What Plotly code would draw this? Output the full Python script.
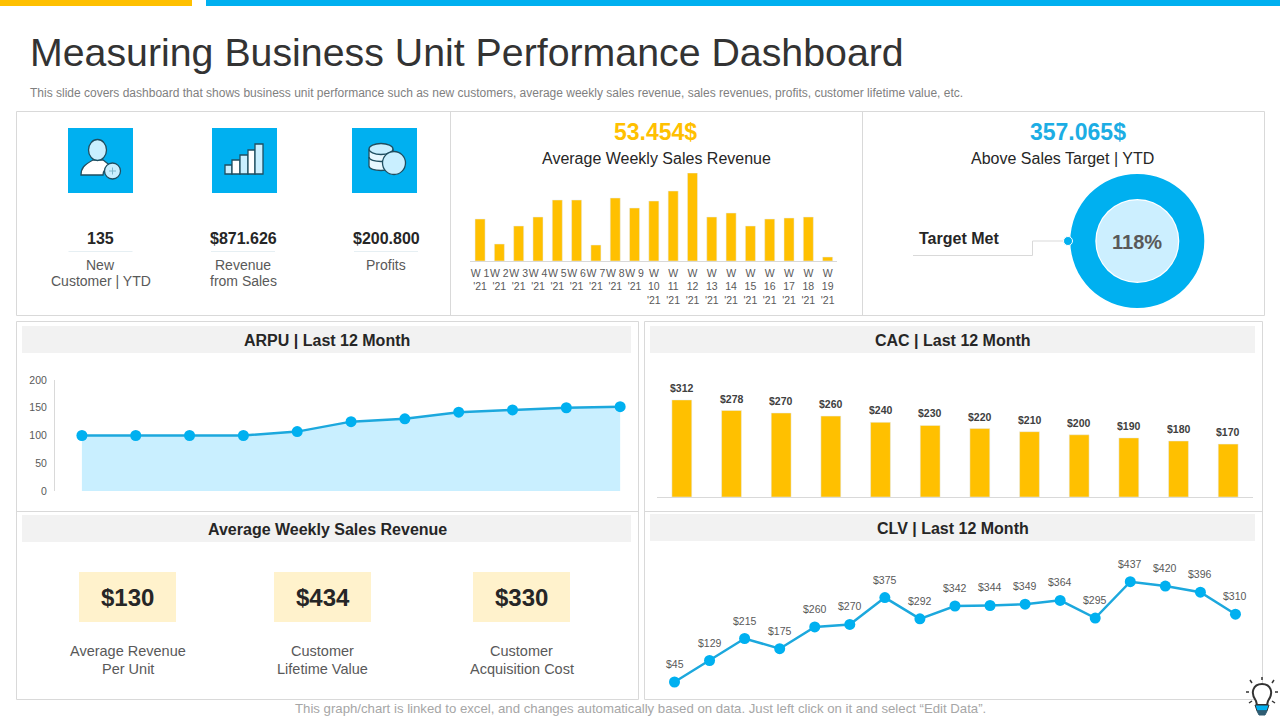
import plotly.graph_objects as go

YELLOW = "#FFC000"
BLUE = "#00B0F0"
LINE_BLUE = "#1CA8DD"
LIGHT_BLUE = "#C9EFFF"
BORDER = "#D9D9D9"
DARK = "#262626"
GREY = "#595959"
FONT = "Liberation Sans"

# weekly sales revenue (no scale on the chart)
week_labels = ["W 1<br>'21", "W 2<br>'21", "W 3<br>'21", "W 4<br>'21", "W 5<br>'21",
               "W 6<br>'21", "W 7<br>'21", "W 8<br>'21", "W 9<br>'21", "W<br>10<br>'21",
               "W<br>11<br>'21", "W<br>12<br>'21", "W<br>13<br>'21", "W<br>14<br>'21",
               "W<br>15<br>'21", "W<br>16<br>'21", "W<br>17<br>'21", "W<br>18<br>'21",
               "W<br>19<br>'21"]
week_values = [42, 17, 35, 44, 61, 61, 16, 63, 53, 60, 70, 88, 44, 48, 35, 42, 43, 44, 4]

arpu_months = ["M1", "M2", "M3", "M4", "M5", "M6", "M7", "M8", "M9", "M10", "M11"]
arpu_values = [100, 100, 100, 100, 107, 125, 130, 142, 146, 150, 152]
arpu_ticks = [0, 50, 100, 150, 200]

cac_months = ["M1", "M2", "M3", "M4", "M5", "M6", "M7", "M8", "M9", "M10", "M11", "M12"]
cac_values = [312, 278, 270, 260, 240, 230, 220, 210, 200, 190, 180, 170]

clv_points = ["P1", "P2", "P3", "P4", "P5", "P6", "P7", "P8", "P9", "P10", "P11", "P12",
              "P13", "P14", "P15", "P16", "P17"]
clv_values = [45, 129, 215, 175, 260, 270, 375, 292, 342, 344, 349, 364, 295, 437, 420, 396, 310]

target_met = [118]

kpi_numbers = ["135", "$871.626", "$200.800"]
kpi_labels = [["New", "Customer | YTD"], ["Revenue", "from Sales"], ["Profits"]]
tile_values = ["$130", "$434", "$330"]
tile_labels = [["Average Revenue", "Per Unit"], ["Customer", "Lifetime Value"],
               ["Customer", "Acquisition Cost"]]


def px(x):
    return x / 1280


def py(y):
    return 1 - y / 720


def dom_x(x0, x1):
    return [px(x0), px(x1)]


def dom_y(y_top, y_bottom):
    return [py(y_bottom), py(y_top)]


shapes = []
annotations = []


def rect(x0, y0, x1, y1, fill=None, line=None, width=1):
    shapes.append(dict(type="rect", xref="paper", yref="paper", layer="below",
                       x0=px(x0), x1=px(x1), y0=py(y1), y1=py(y0),
                       fillcolor=fill or "rgba(0,0,0,0)",
                       line=dict(color=line or "rgba(0,0,0,0)", width=width if line else 0)))


def circle(cx, cy, rx, ry=None, fill=None, line=None, width=1, layer="below"):
    ry = ry or rx
    shapes.append(dict(type="circle", xref="paper", yref="paper", layer=layer,
                       x0=px(cx - rx), x1=px(cx + rx), y0=py(cy + ry), y1=py(cy - ry),
                       fillcolor=fill or "rgba(0,0,0,0)",
                       line=dict(color=line or "rgba(0,0,0,0)", width=width if line else 0)))


def path(d, fill=None, line=None, width=1, layer="below"):
    # d is an svg path written in slide pixels, only absolute commands
    out = []
    is_x = True
    for tok in d.split():
        if tok.isalpha():
            out.append(tok)
        else:
            out.append(str(px(float(tok)) if is_x else py(float(tok))))
            is_x = not is_x
    shapes.append(dict(type="path", xref="paper", yref="paper", layer=layer, path=" ".join(out),
                       fillcolor=fill or "rgba(0,0,0,0)",
                       line=dict(color=line or "rgba(0,0,0,0)", width=width if line else 0)))


def text(x, y, s, size, color=DARK, bold=False, anchor="center"):
    annotations.append(dict(xref="paper", yref="paper", x=px(x), y=py(y), text="<b>%s</b>" % s if bold else s,
                            showarrow=False, xanchor=anchor, yanchor="middle", borderpad=0,
                            font=dict(family=FONT, size=size, color=color)))


def value_label(xref, yref, x, y, s, lift, color, bold=False):
    # label tied to a data point, lifted by a few pixels
    annotations.append(dict(xref=xref, yref=yref, x=x, y=y, yshift=lift, text="<b>%s</b>" % s if bold else s,
                            showarrow=False, xanchor="center", yanchor="middle", borderpad=0,
                            font=dict(family=FONT, size=10.5, color=color)))


# top strips
rect(206, 0, 1280, 6, fill=BLUE)
rect(0, 0, 192, 6, fill=YELLOW)

# title
text(28.5, 52, "Measuring Business Unit Performance Dashboard", 39.3, color="#333333", anchor="left")
text(29, 93, "This slide covers dashboard that shows business unit performance such as new customers, "
     "average weekly sales revenue, sales revenues, profits, customer lifetime value, etc.",
     12, color="#7F7F7F", anchor="left")

# panels
rect(16.5, 111.5, 1264.5, 315.5, line=BORDER)
path("M 450.5 111.5 L 450.5 315.5", line=BORDER)
path("M 862.5 111.5 L 862.5 315.5", line=BORDER)
rect(16.5, 321.5, 638.5, 699.5, line=BORDER)
rect(644.5, 321.5, 1262.5, 699.5, line=BORDER)
path("M 16.5 511.5 L 638.5 511.5", line=BORDER)
path("M 644.5 511.5 L 1262.5 511.5", line=BORDER)

# panel headers
headers = [(22, 631, 326, 353, "ARPU | Last 12 Month"), (650, 1255, 326, 353, "CAC | Last 12 Month"),
           (22, 631, 515, 542, "Average Weekly Sales Revenue"), (650, 1255, 514, 541, "CLV | Last 12 Month")]
for x0, x1, y0, y1, label in headers:
    rect(x0, y0, x1, y1, fill="#F2F2F2")
    text((x0 + x1) / 2 + 0.5, (y0 + y1) / 2 + 1, label, 16, bold=True)

# icon tiles
for x0 in [68, 212, 352]:
    rect(x0, 128, x0 + 65, 193, fill=BLUE)

ICON = "#1F4E60"
# person with plus
path("M 81 175 C 81 168 84 165 93 160 L 103 160 C 107 163 109 164 110 166 C 105 168 103 171 103 175 Z",
     fill="#FFFFFF", line=ICON, width=1.3)
circle(97.5, 150, 9, 10.5, fill=LIGHT_BLUE, line=ICON, width=1.3)
circle(112.5, 171, 8, fill=LIGHT_BLUE, line=ICON, width=1.3)
path("M 109 171 L 116 171 M 112.5 167.5 L 112.5 174.5", line="#7FB8CC", width=1)
# bars
bar_lefts = [225, 232, 240, 248, 255]
bar_tops = [165, 160, 155, 150, 144]
bar_rights = [232, 240, 248, 255, 263]
for i in range(5):
    rect(bar_lefts[i], bar_tops[i], bar_rights[i], 174, fill=LIGHT_BLUE if i % 2 == 0 else "#FFFFFF",
         line=ICON, width=1.3)
# coins
path("M 369 150 L 369 166 C 369 172 393 172 393 166 L 393 150 Z", fill="#E8F8FF", line=ICON, width=1.3)
circle(381, 149, 12, 5.5, fill=LIGHT_BLUE, line=ICON, width=1.3)
path("M 369 157 C 369 163 393 163 393 157", line=ICON, width=1.3)
circle(394, 163, 11.5, fill=LIGHT_BLUE, line=ICON, width=1.3)

# kpi numbers
for cx, number, labels in zip([100.5, 243, 386], kpi_numbers, kpi_labels):
    text(cx, 238.5, number, 16, bold=True)
    path("M %s 251.5 L %s 251.5" % (cx - 32, cx + 32), line="#E6EFF3")
    for i, label in enumerate(labels):
        text(cx, 264.5 + 16 * i, label, 14, color=GREY)

# weekly revenue and target headings
text(655, 132, "53.454$", 23, color=YELLOW, bold=True)
text(656, 158.5, "Average Weekly Sales Revenue", 16)
text(1078, 132, "357.065$", 23, color="#1CADE4", bold=True)
text(1062, 158.5, "Above Sales Target | YTD", 16)

# donut centre and connector
circle(1137.3, 241, 41.5, fill="#CCEFFF", line="#FFFFFF", width=1.5)
text(1137.3, 241.5, "<b>%d%%</b>" % target_met[0], 20, color=GREY)
text(918, 239, "Target Met", 16, bold=True, anchor="left")
path("M 913 255.5 L 1032.5 255.5 L 1032.5 241 L 1068 241", line=BORDER)
circle(1068, 241, 4.5, fill=BLUE, line="#FFFFFF", width=1, layer="above")

# tiles in the lower left panel
for x0, value, labels in zip([79, 274, 473], tile_values, tile_labels):
    rect(x0, 572, x0 + 97, 622, fill="#FFF2CC")
    text(x0 + 48.5, 597.5, value, 24, bold=True)
    for i, label in enumerate(labels):
        text(x0 + 48.5, 651 + 18 * i, label, 14.5, color=GREY)

# footer
text(640.5, 708, "This graph/chart is linked to excel, and changes automatically based on data. "
     "Just left click on it and select “Edit Data”.", 13.2, color="#A6A6A6")

# bulb
path("M 1256 701 C 1250 693 1253 684 1262 684 C 1271 684 1274 693 1268 701 L 1267 705 L 1257 705 Z",
     fill="#FFFFFF", line="#333333", width=2, layer="above")
path("M 1255 705 L 1269 705 L 1267 711 L 1257 711 Z", fill=BLUE, line="#333333", width=1, layer="above")
path("M 1257 711 L 1267 711 L 1265 715 L 1259 715 Z", fill="#2F5D73", line="#2F5D73", layer="above")
path("M 1262 677 L 1262 680 M 1250 680 L 1252 683 M 1274 680 L 1272 683 M 1246 692 L 1249 692 "
     "M 1275 692 L 1278 692 M 1249 703 L 1252 701 M 1275 703 L 1272 701", line="#333333", width=1.5, layer="above")

# value labels
for m, v in zip(cac_months, cac_values):
    value_label("x3", "y3", m, v, "$%d" % v, 12, "#404040", bold=True)
for p, v in zip(clv_points, clv_values):
    value_label("x4", "y4", p, v, "$%d" % v, 18, GREY)

fig = go.Figure()

# weekly bars
fig.add_trace(go.Bar(x=week_labels, y=week_values, marker_color=YELLOW, xaxis="x", yaxis="y"))
# arpu
fig.add_trace(go.Scatter(x=arpu_months, y=arpu_values, mode="lines+markers", fill="tozeroy", fillcolor=LIGHT_BLUE,
                         line=dict(color=LINE_BLUE, width=2.5), marker=dict(color=BLUE, size=11),
                         xaxis="x2", yaxis="y2"))
# cac
fig.add_trace(go.Bar(x=cac_months, y=cac_values, width=0.4, marker_color=YELLOW, xaxis="x3", yaxis="y3"))
# clv
fig.add_trace(go.Scatter(x=clv_points, y=clv_values, mode="lines+markers",
                         line=dict(color=LINE_BLUE, width=2.5), marker=dict(color=BLUE, size=11),
                         xaxis="x4", yaxis="y4"))
# donut
fig.add_trace(go.Pie(values=target_met, hole=0.627, sort=False, textinfo="none", marker=dict(colors=[BLUE]),
                     domain=dict(x=dom_x(1070.3, 1204.3), y=dom_y(174, 308))))

hidden = dict(showgrid=False, zeroline=False, showticklabels=False, ticks="", showline=False)

fig.update_layout(
    width=1280, height=720, autosize=False, margin=dict(l=0, r=0, t=0, b=0, pad=0, autoexpand=False),
    paper_bgcolor="#FFFFFF", plot_bgcolor="rgba(0,0,0,0)", showlegend=False, bargap=0.48,
    font=dict(family=FONT),
    shapes=shapes, annotations=annotations,
    xaxis=dict(domain=dom_x(470.4, 837.3), anchor="y", type="category", range=[-0.5, 18.5], showgrid=False,
               zeroline=False, showline=True, linecolor=BORDER, tickangle=0, tickmode="linear", dtick=1, ticks="",
               ticklabelstandoff=2, tickfont=dict(family=FONT, size=10.5, color=GREY)),
    yaxis=dict(domain=dom_y(173, 261), anchor="x", range=[0, 88], **hidden),
    xaxis2=dict(domain=dom_x(55, 632), anchor="y2", type="category", range=[-0.5, 10.22], **hidden),
    yaxis2=dict(domain=dom_y(380, 491), anchor="x2", range=[0, 200], tickvals=arpu_ticks, showgrid=False,
                zeroline=False, showline=True, linecolor=BORDER, ticks="", ticklabelstandoff=5,
                tickfont=dict(family=FONT, size=10.5, color=GREY)),
    xaxis3=dict(domain=dom_x(657, 1253), anchor="y3", type="category", range=[-0.5, 11.5], showgrid=False,
                zeroline=False, showline=True, linecolor=BORDER, showticklabels=False, ticks=""),
    yaxis3=dict(domain=dom_y(388.1, 497), anchor="x3", range=[0, 350], **hidden),
    xaxis4=dict(domain=dom_x(657, 1253), anchor="y4", type="category",
                range=[(657 - 674.5) / 35.06, (1253 - 674.5) / 35.06], **hidden),
    yaxis4=dict(domain=dom_y(540, 693.5), anchor="x4", range=[0, 600], **hidden),
)

fig.write_html("out.html", config=dict(displayModeBar=False),
               post_script="document.body.style.margin='0';document.body.style.overflow='hidden';")
